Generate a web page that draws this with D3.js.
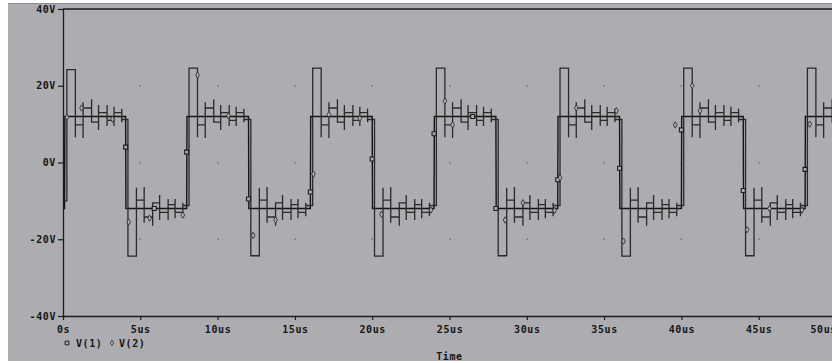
<!DOCTYPE html>
<html><head><meta charset="utf-8">
<script src="https://cdn.jsdelivr.net/npm/d3@7"></script>
<style>
html,body{margin:0;padding:0;background:#fff;}
svg{display:block;}
text{font-family:"DejaVu Sans Mono",monospace;font-weight:bold;font-size:10px;fill:#161616;letter-spacing:0.6px;}
</style></head>
<body>
<script>
// ---- data ----
const yTicks = [-40, -20, 0, 20, 40];
const yTickLabels = ["-40V", "-20V", "0V", "20V", "40V"];
const xTicks = [0, 5, 10, 15, 20, 25, 30, 35, 40, 45, 50];
const xTickLabels = ["0s", "5us", "10us", "15us", "20us", "25us", "30us", "35us", "40us", "45us", "50us"];
const seriesNames = ["V(1)", "V(2)"];

// V(1): square wave (time in us, value in V)
const v1Time  = [0, 0.1, 0.12, 4.05, 4.07, 8.0, 8.02, 12.0, 12.02, 16.0, 16.02, 20.0, 20.02, 24.0, 24.02, 28.0, 28.02, 32.0, 32.02, 36.0, 36.02, 40.0, 40.02, 44.0, 44.02, 48.0, 48.02, 50];
const v1Value = [-12, -12, 12, 12, -12, -12, 12, 12, -12, -12, 12, 12, -12, -12, 12, 12, -12, -12, 12, 12, -12, -12, 12, 12, -12, -12, 12, 12];

// V(2): each half period of V(1) starts with an overshoot, then a ringing staircase
const halfStart = [0.1, 4.05, 8.0, 12.0, 16.0, 20.0, 24.0, 28.0, 32.0, 36.0, 40.0, 44.0, 48.0];
const halfSign  = [1, -1, 1, -1, 1, -1, 1, -1, 1, -1, 1, -1, 1];
const overshoot = [24.2, 24.4, 24.6, 24.3, 24.6, 24.4, 24.6, 24.3, 24.6, 24.4, 24.6, 24.3, 24.6];
// staircase steps inside a half period (time after the edge, magnitudes in V)
const stepTime  = [0.7, 1.2, 1.75, 2.2, 2.75, 3.2, 3.7];
const stepHold  = [9.8, 14.2, 10.5, 13.0, 11.0, 13.0, 11.2];
const spikeLow  = [6.6, 6.4, 10.5, 8.5, 9.5, 9.5, 10.5];
const spikeHigh = [24, 15.7, 16.5, 15.0, 15.0, 14.5, 14.0];
const v2Start = -10;

// marker positions (time in us, value in V)
const v1MarkT = [4.05, 5.9, 8.0, 12.0, 16.0, 20.0, 24.0, 26.5, 28.0, 32.0, 36.0, 40.0, 44.0, 48.0];
const v1MarkV = [4.0, -12, 2.7, -9.5, -7.7, 0.9, 7.5, 12, -12, -4.5, -1.5, 8.5, -7.3, -1.8];
const v2MarkT = [0.25, 1.2, 3.2, 4.25, 5.6, 7.75, 8.7, 10.7, 12.3, 13.75, 16.2, 17.2, 19.2, 20.6, 23.8, 24.7, 25.2, 28.6, 29.75, 31.8, 32.15, 33.2, 35.8, 36.25, 39.6, 40.7, 41.2, 44.25, 45.7, 47.8, 48.3];
const v2MarkV = [11.8, 14.2, 11.3, -15.5, -14.5, -13.7, 22.8, 12.2, -19, -15, -3, 12.5, 11.5, -13.5, -12.4, 16, 9.8, -15, -10.5, -12.5, -4, 14.2, 13.5, -20.5, 9.8, 20, 13.5, -17.5, -12, -12.4, 10];

// ---- drawing ----
const W = 832, H = 363;
const svg = d3.select("body").append("svg").attr("width", W).attr("height", H);

svg.append("rect").attr("x", 8).attr("y", 3).attr("width", W - 8).attr("height", 358).attr("fill", "#adacb0");
svg.append("line").attr("x1", 8).attr("x2", W).attr("y1", 3.5).attr("y2", 3.5).attr("stroke", "#8c8b8f").attr("stroke-width", 1);

const x = d3.scaleLinear().domain([0, 50]).range([63, 836]);
const y = d3.scaleLinear().domain([-40, 40]).range([316, 9]);
const ink = "#1c1c1c";

// grid dots at intersections
const gx = xTicks.filter(t => t > 0 && t < 50);
const gy = yTicks.filter(v => v > -40 && v < 40);
gx.forEach(t => gy.forEach(v => {
  svg.append("rect").attr("x", Math.round(x(t)) - 0.5).attr("y", Math.round(y(v)) - 0.5)
    .attr("width", 1.2).attr("height", 1.2).attr("fill", "#5a5a5e");
}));

// axes
const yAxis = d3.axisLeft(y).tickValues(yTicks).tickFormat((d, i) => yTickLabels[i]).tickSize(5).tickPadding(2);
const gY = svg.append("g").attr("transform", `translate(${x(0)},0)`).call(yAxis);
const xAxis = d3.axisBottom(x).tickValues(xTicks).tickFormat((d, i) => xTickLabels[i]).tickSize(4).tickPadding(4);
const gX = svg.append("g").attr("transform", `translate(0,${y(-40)})`).call(xAxis);
[gY, gX].forEach(g => {
  g.select(".domain").attr("stroke", ink).attr("stroke-width", 1.3);
  g.selectAll(".tick line").attr("stroke", ink).attr("stroke-width", 1.2);
  g.selectAll(".tick text").attr("fill", ink).style("font-family", "DejaVu Sans Mono").style("font-weight", "bold").style("font-size", "10px");
});
gX.select(".domain").attr("d", `M${x(0)},0.5H${W}`);
gY.select(".domain").attr("d", `M0.5,${y(40)}V${y(-40)}`);
gX.selectAll(".tick text").attr("dy", "0.85em");
// the last time label is pulled left, as in the reference (it still runs off the edge)
gX.selectAll(".tick text").filter(d => d === 50).attr("text-anchor", "start").attr("x", 810 - x(50));
// top border
svg.append("line").attr("x1", x(0)).attr("x2", W).attr("y1", y(40)).attr("y2", y(40)).attr("stroke", ink).attr("stroke-width", 1.3);

// build V(2) points
const v2Pts = [[0, v2Start]];
halfStart.forEach((e, i) => {
  const s = halfSign[i];
  v2Pts.push([e + 0.15, v2Pts[v2Pts.length - 1][1]]);
  v2Pts.push([e + 0.15, s * overshoot[i]]);
  stepTime.forEach((st, k) => {
    const t = e + st;
    if (t > 50) return;
    v2Pts.push([t, v2Pts[v2Pts.length - 1][1]]);
    v2Pts.push([t, s * spikeLow[k]]);
    v2Pts.push([t, s * spikeHigh[k]]);
    v2Pts.push([t, s * stepHold[k]]);
  });
});
v2Pts.push([50, v2Pts[v2Pts.length - 1][1]]);

const v1Pts = v1Time.map((t, i) => [t, v1Value[i]]);
const line = d3.line().x(d => x(d[0])).y(d => y(d[1]));

const plot = svg.append("g");
plot.append("path").datum(v1Pts).attr("d", line).attr("fill", "none").attr("stroke", "#151515").attr("stroke-width", 1.4);
plot.append("path").datum(v2Pts).attr("d", line).attr("fill", "none").attr("stroke", "#2a2a2a").attr("stroke-width", 1.3);

// markers
const sq = d3.symbol().type(d3.symbolSquare).size(16);
const dm = d3.symbol().type(d3.symbolDiamond).size(12);
v1MarkT.forEach((t, i) => {
  plot.append("path").attr("d", sq).attr("transform", `translate(${x(t)},${y(v1MarkV[i])})`)
    .attr("fill", "#adacb0").attr("stroke", ink).attr("stroke-width", 1.1);
});
v2MarkT.forEach((t, i) => {
  plot.append("path").attr("d", dm).attr("transform", `translate(${x(t)},${y(v2MarkV[i])})`)
    .attr("fill", "#adacb0").attr("stroke", "#333").attr("stroke-width", 0.9);
});

// legend
const lg = svg.append("g");
lg.append("path").attr("d", d3.symbol().type(d3.symbolSquare).size(14)).attr("transform", "translate(67,343)")
  .attr("fill", "none").attr("stroke", ink).attr("stroke-width", 1);
lg.append("text").attr("x", 76).attr("y", 347).text(seriesNames[0]);
lg.append("path").attr("d", d3.symbol().type(d3.symbolDiamond).size(10)).attr("transform", "translate(112,343)")
  .attr("fill", "none").attr("stroke", "#444").attr("stroke-width", 0.9);
lg.append("text").attr("x", 119).attr("y", 347).text(seriesNames[1]);

// axis title
svg.append("text").attr("x", x(25)).attr("y", 360).attr("text-anchor", "middle").text("Time");
</script>
</body></html>
